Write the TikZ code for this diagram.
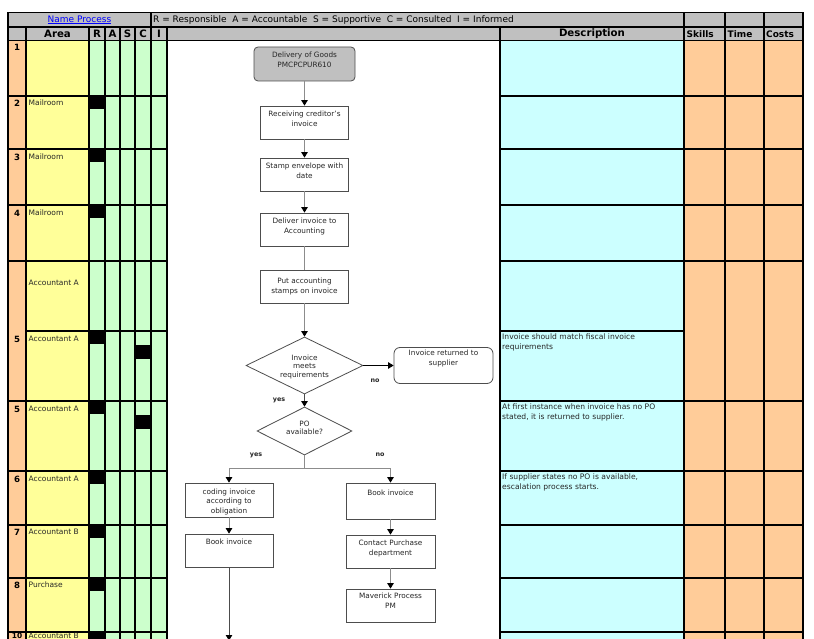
\documentclass[tikz,border=0pt]{standalone}
\usepackage{fontspec}
\setmainfont{DejaVu Sans}
\usetikzlibrary{arrows.meta,shapes.geometric}
\definecolor{hdrgray}{HTML}{C0C0C0}
\definecolor{peach}{HTML}{FFCC99}
\definecolor{lyel}{HTML}{FFFF99}
\definecolor{lgrn}{HTML}{CCFFCC}
\definecolor{lcyan}{HTML}{CCFFFF}
\definecolor{conn}{HTML}{8C8C8C}
\definecolor{boxline}{HTML}{4D4D4D}
\definecolor{linkblue}{HTML}{0000FF}
\definecolor{txt}{HTML}{262626}
\begin{document}
\begin{tikzpicture}[x=1pt,y=-1pt,
  gridline/.style={draw=black,line width=1.2pt},
  tiny/.style={font=\fontsize{7.3}{9.9}\selectfont,text=txt,inner sep=0pt},
  boxtext/.style={tiny,align=center,anchor=north},
  diatext/.style={tiny,font=\fontsize{7.3}{8.6}\selectfont,align=center,anchor=north},
  desctext/.style={tiny,font=\fontsize{7.6}{10}\selectfont,align=left,anchor=north west},
  arealabel/.style={tiny,font=\fontsize{7.5}{9}\selectfont,anchor=west},
  numlabel/.style={font=\bfseries\fontsize{8.6}{9}\selectfont,inner sep=0pt},
  hdrbold/.style={font=\bfseries\fontsize{10.2}{11}\selectfont,inner sep=0pt},
  hdrsmall/.style={font=\bfseries\fontsize{9}{10}\selectfont,inner sep=0pt,anchor=west},
  hdrplain/.style={font=\fontsize{9}{10}\selectfont,inner sep=0pt},
  procbox/.style={draw=boxline,fill=white,line width=0.8pt,inner sep=0pt},
  decision/.style={diamond,draw=boxline,fill=white,line width=0.8pt,inner sep=0pt},
  flow/.style={draw=conn,line width=0.9pt},
  flowarrow/.style={flow,-{Triangle[color=black,fill=black,width=6.5pt,length=5.5pt]}},
  yesno/.style={font=\bfseries\fontsize{6.4}{7}\selectfont,text=txt,inner sep=0pt}
]
\useasboundingbox (0,0) rectangle (814,639);
\clip (0,0) rectangle (814,639);
\fill[white] (0,0) rectangle (814,639);
% ---------- cell fills
\fill[hdrgray] (8,12.5) rectangle (803,40.5);
\fill[peach] (8,40.5) rectangle (26,660);
\fill[lyel] (26,40.5) rectangle (89,660);
\fill[lgrn] (89,40.5) rectangle (167,660);
\fill[lcyan] (500,40.5) rectangle (684,660);
\fill[peach] (684,40.5) rectangle (803,660);
% ---------- RASCI marks
\foreach \y in {96,149,205,331,401,471,525,578,632} \fill[black] (89,\y) rectangle (105,\y+13);
\fill[black] (135,345) rectangle (151,359);
\fill[black] (135,415) rectangle (151,429);
% ---------- grid
\foreach \y in {12.5,27,40.5} \draw[gridline] (8,\y) -- (803,\y);
\foreach \y in {96,149,205,261,401,471,525,578,632} {
  \draw[gridline] (8,\y) -- (167,\y);
  \draw[gridline] (500,\y) -- (803,\y);
}
\draw[gridline] (26,331) -- (167,331);
\draw[gridline] (500,331) -- (684,331);
\foreach \x in {8,151,684,725,764,803} \draw[gridline] (\x,12.5) -- (\x,660);
\foreach \x in {26,89,105,120,135,167,500} \draw[gridline] (\x,27) -- (\x,660);
% ---------- header texts
\node[hdrplain,text=linkblue] (np) at (79.5,19.8) {\underline{Name Process}};
\node[hdrplain,anchor=west] (legend) at (153,19.8) {R = Responsible\ \ A = Accountable\ \ S = Supportive\ \ C = Consulted\ \ I = Informed};
\node[hdrbold] (harea) at (57.5,33.8) {Area};
\node[hdrbold] (hr) at (97,33.8) {R};
\node[hdrbold] (ha) at (112.5,33.8) {A};
\node[hdrbold] (hs) at (127.5,33.8) {S};
\node[hdrbold] (hc) at (143,33.8) {C};
\node[hdrbold] (hi) at (159,33.8) {I};
\node[hdrbold] (hdesc) at (592,33.8) {Description};
\node[hdrsmall] (hskills) at (686.5,33.8) {Skills};
\node[hdrsmall] (htime) at (727.5,33.8) {Time};
\node[hdrsmall] (hcosts) at (766,33.8) {Costs};
% ---------- row numbers
\node[numlabel] (n1) at (17,47.5) {1};
\node[numlabel] (n2) at (17,103) {2};
\node[numlabel] (n3) at (17,157) {3};
\node[numlabel] (n4) at (17,213) {4};
\node[numlabel] (n5a) at (17,339) {5};
\node[numlabel] (n5b) at (17,409) {5};
\node[numlabel] (n6) at (17,479) {6};
\node[numlabel] (n7) at (17,532) {7};
\node[numlabel] (n8) at (17,585) {8};
\node[numlabel,font=\bfseries\fontsize{7.4}{8}\selectfont,anchor=base] (n10) at (17,638.8) {10};
% ---------- area labels
\node[arealabel] (a2) at (28.5,103) {Mailroom};
\node[arealabel] (a3) at (28.5,157) {Mailroom};
\node[arealabel] (a4) at (28.5,213) {Mailroom};
\node[arealabel] (a4b) at (28.5,283) {Accountant A};
\node[arealabel] (a5a) at (28.5,339) {Accountant A};
\node[arealabel] (a5b) at (28.5,409) {Accountant A};
\node[arealabel] (a6) at (28.5,479) {Accountant A};
\node[arealabel] (a7) at (28.5,532) {Accountant B};
\node[arealabel] (a8) at (28.5,585) {Purchase};
\node[arealabel,anchor=base west] (a10) at (28.5,638.6) {Accountant B};
% ---------- descriptions
\node[desctext] (d1) at (502,334) {Invoice should match fiscal invoice\\requirements};
\node[desctext] (d2) at (502,404) {At first instance when invoice has no PO\\stated, it is returned to supplier.};
\node[desctext] (d3) at (502,474) {If supplier states no PO is available,\\escalation process starts.};
% ---------- flowchart shapes
\node[procbox,fill=hdrgray,rounded corners=4pt,minimum width=101pt,minimum height=34pt] (deliv) at (304.5,64) {};
\node[boxtext] (delivt) at (304.5,51.5) {Delivery of Goods\\PMCPCPUR610};
\node[procbox,minimum width=88pt,minimum height=33pt] (recv) at (304.5,122.5) {};
\node[boxtext] (recvt) at (304.5,110.5) {Receiving creditor's\\invoice};
\node[procbox,minimum width=88pt,minimum height=33pt] (stamp) at (304.5,174.5) {};
\node[boxtext] (stampt) at (304.5,162.5) {Stamp envelope with\\date};
\node[procbox,minimum width=88pt,minimum height=33pt] (deliver) at (304.5,229.5) {};
\node[boxtext] (delivert) at (304.5,217.5) {Deliver invoice to\\Accounting};
\node[procbox,minimum width=88pt,minimum height=33pt] (put) at (304.5,286.5) {};
\node[boxtext] (putt) at (304.5,277.5) {Put accounting\\stamps on invoice};
\node[decision,minimum width=117pt,minimum height=57pt] (dia1) at (304.5,365.5) {};
\node[diatext] (dia1t) at (304.5,354.5) {Invoice\\meets\\requirements};
\node[procbox,rounded corners=6pt,minimum width=99pt,minimum height=36pt] (ret) at (443.5,365.5) {};
\node[boxtext] (rett) at (443.5,349.5) {Invoice returned to\\supplier};
\node[decision,minimum width=95pt,minimum height=48pt] (dia2) at (304.5,431) {};
\node[diatext] (dia2t) at (304.5,420.5) {PO\\available?};
\node[procbox,minimum width=88pt,minimum height=34pt] (coding) at (229,500) {};
\node[boxtext,font=\fontsize{7.3}{9.4}\selectfont] (codingt) at (229,488.5) {coding invoice\\according to\\obligation};
\node[procbox,minimum width=88pt,minimum height=33pt] (bookL) at (229,550.5) {};
\node[boxtext] (bookLt) at (229,538.5) {Book invoice};
\node[procbox,minimum width=89pt,minimum height=36pt] (bookR) at (390.5,501) {};
\node[boxtext] (bookRt) at (390.5,489.5) {Book invoice};
\node[procbox,minimum width=89pt,minimum height=33pt] (contact) at (390.5,551.5) {};
\node[boxtext] (contactt) at (390.5,539.5) {Contact Purchase\\department};
\node[procbox,minimum width=89pt,minimum height=33pt] (mav) at (390.5,605.5) {};
\node[boxtext] (mavt) at (390.5,592.5) {Maverick Process\\PM};
% ---------- labels
\node[yesno] (yes1) at (279,400) {yes};
\node[yesno] (no1) at (375,381) {no};
\node[yesno] (yes2) at (256,455) {yes};
\node[yesno] (no2) at (380,455) {no};
% ---------- connectors
\coordinate (sp) at (304.5,468);
\coordinate (spL) at (229,468);
\coordinate (spR) at (390.5,468);
\coordinate (endpt) at (229,640.5);
\draw[flowarrow] (deliv.south) -- (recv.north);
\draw[flowarrow] (recv.south) -- (stamp.north);
\draw[flowarrow] (stamp.south) -- (deliver.north);
\draw[flow] (deliver.south) -- (put.north);
\draw[flowarrow] (put.south) -- (dia1.north);
\draw[flowarrow,draw=black] (dia1.east) -- (ret.west);
\draw[flowarrow,draw=black!70] (dia1.south) -- (dia2.north);
\draw[flow] (dia2.south) -- (sp);
\draw[flow] (spL) -- (spR);
\draw[flowarrow] (spL) -- (coding.north);
\draw[flowarrow] (spR) -- (bookR.north);
\draw[flowarrow] (coding.south) -- (bookL.north);
\draw[flowarrow] (bookR.south) -- (contact.north);
\draw[flowarrow] (contact.south) -- (mav.north);
\draw[flowarrow,draw=black!70] (bookL.south) -- (endpt);
\end{tikzpicture}
\end{document}
